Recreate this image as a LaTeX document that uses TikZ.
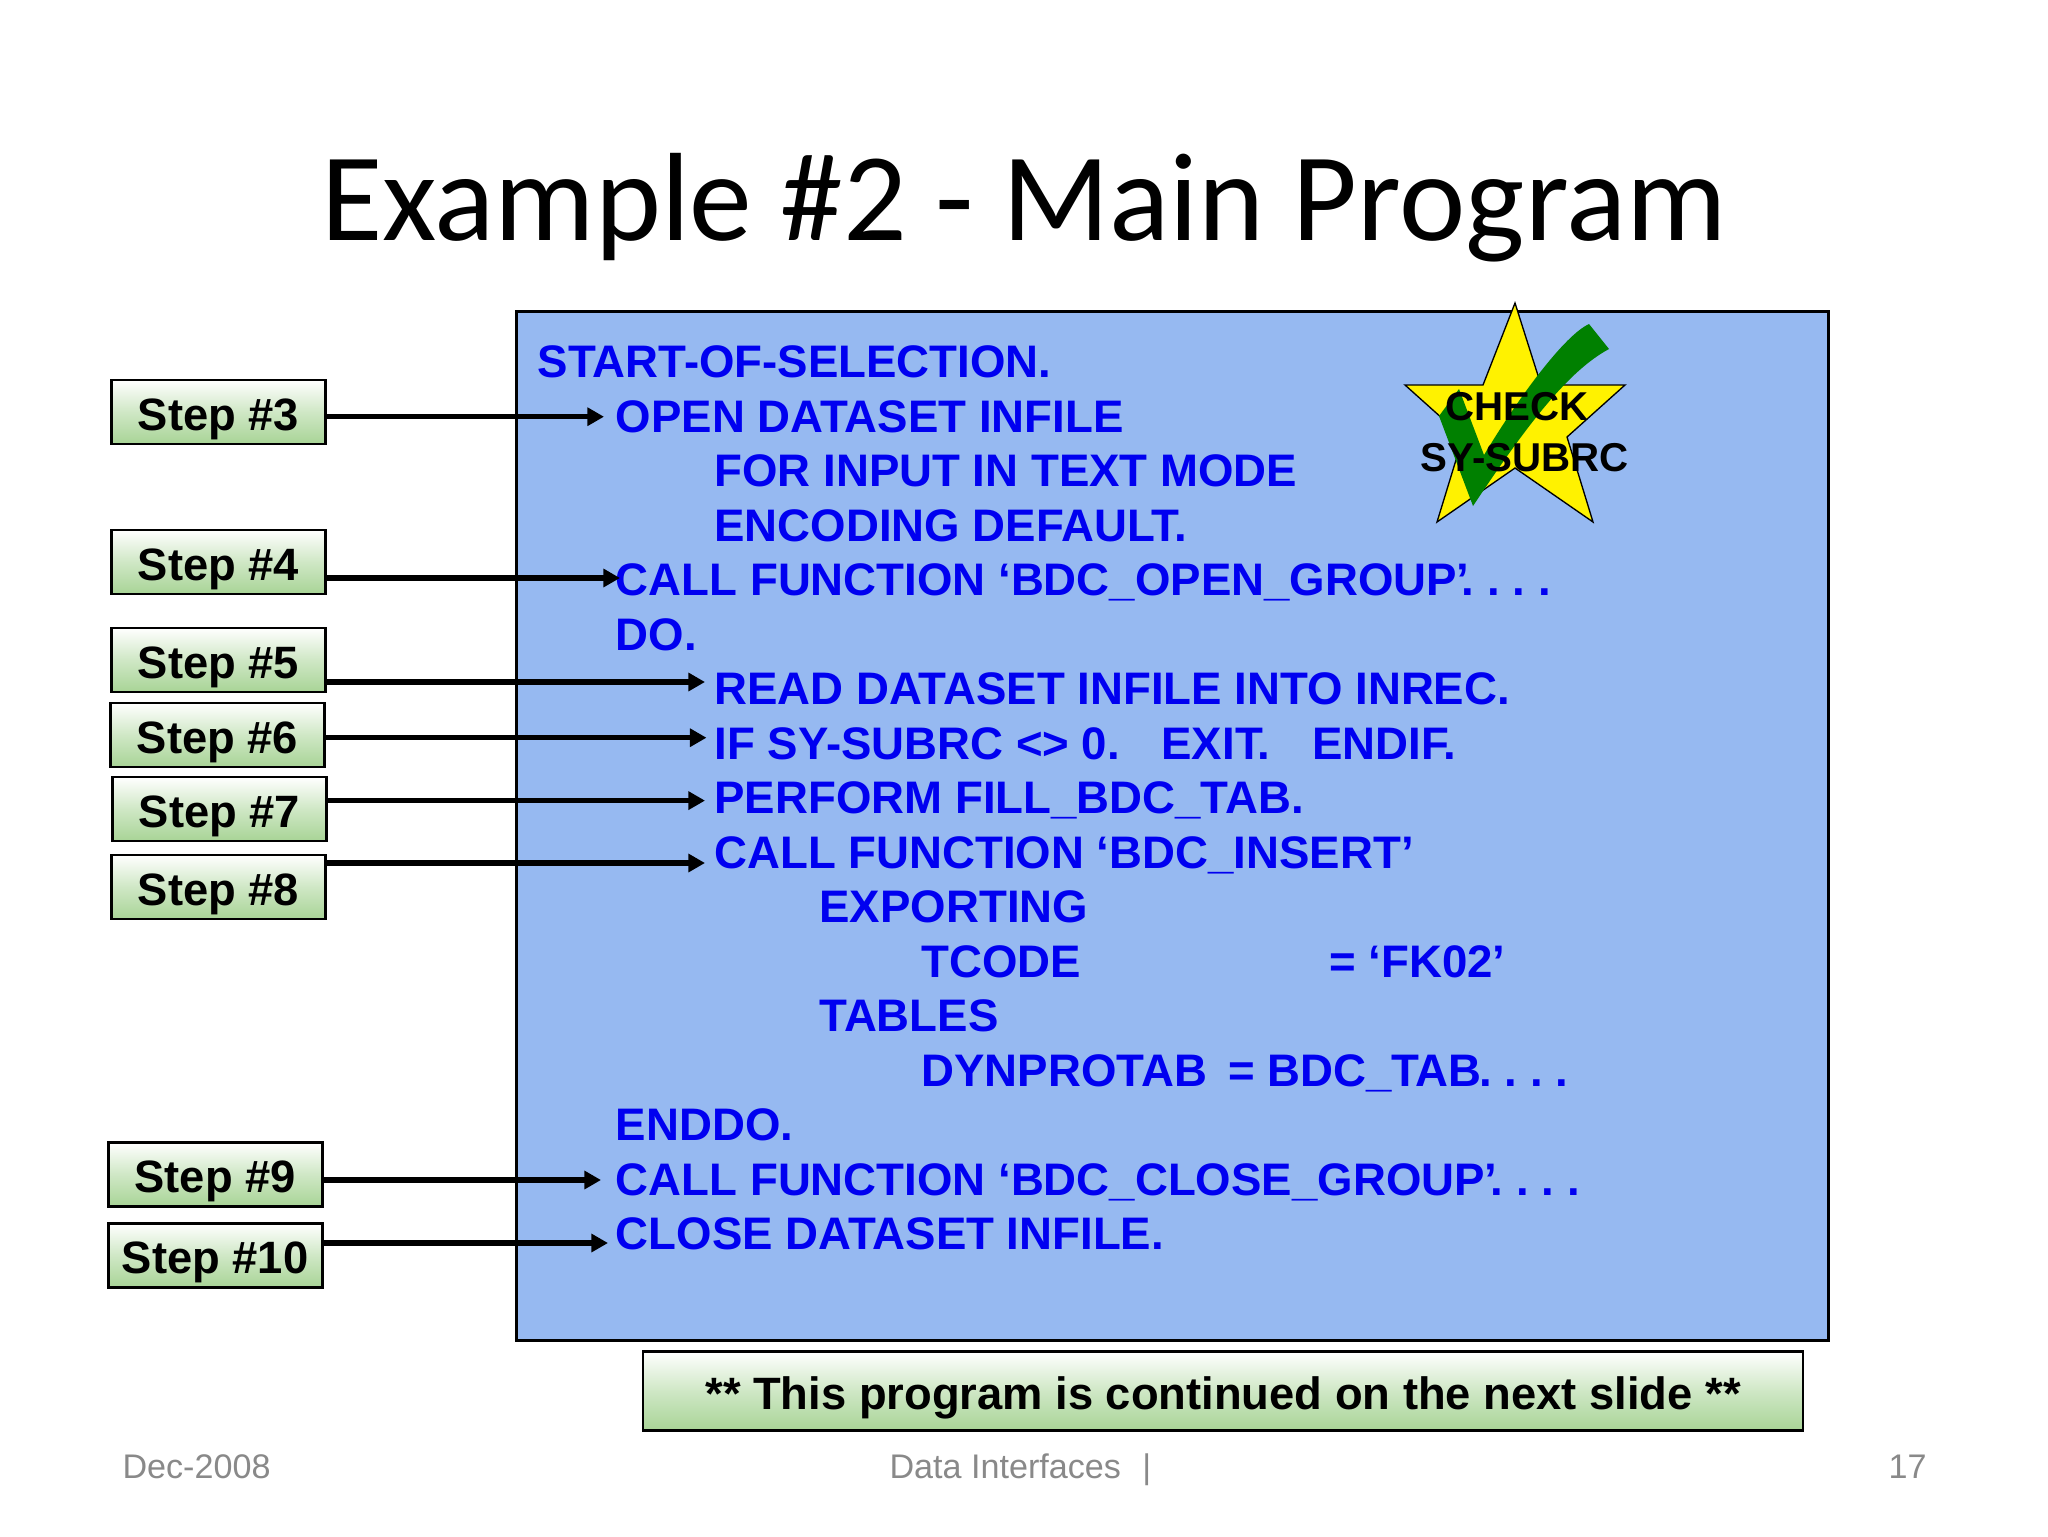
\documentclass[tikz,border=0pt]{standalone}
\usepackage{fontspec}
\setmainfont{Liberation Sans}
\newfontfamily\titlefont{Carlito}
\usetikzlibrary{arrows.meta}
\definecolor{panelblue}{RGB}{150,185,241}
\definecolor{codeblue}{RGB}{0,0,240}
\definecolor{stepgreen}{RGB}{168,212,150}
\definecolor{footgray}{RGB}{137,137,137}
\definecolor{checkgreen}{RGB}{0,128,0}
\newcommand{\dotsgap}{.\hspace{4.8pt}.\hspace{4.8pt}.\hspace{4.8pt}.}
\tikzset{
  stepbox/.style={draw=black,line width=1.1pt,top color=white,bottom color=stepgreen,middle color=white!45!stepgreen,
    minimum width=80.3pt,minimum height=24pt,inner sep=0pt,text height=13.5pt,text depth=0pt,font=\fontsize{17}{20}\selectfont\bfseries,text=black},
  code/.style={anchor=base west,inner sep=0pt,font=\fontsize{17.1}{20}\selectfont\bfseries,text=codeblue},
  foot/.style={anchor=base west,inner sep=0pt,font=\fontsize{12.8}{15}\selectfont,text=footgray},
  arrow/.style={line width=1.9pt,-{Triangle[length=6.2pt,width=6.6pt]}},
  starlabel/.style={inner sep=0pt,align=center,font=\fontsize{15.1}{18}\selectfont\bfseries,text=black}
}
\begin{document}
\begin{tikzpicture}[x=0.375pt,y=-0.375pt]
\useasboundingbox (0,0) rectangle (2048,1536);
\fill[white] (0,0) rectangle (2048,1536);
\node[anchor=base,inner sep=0pt,font=\titlefont\fontsize{47.1}{56}\selectfont] (title) at (1024,240) {Example \#2 - Main Program};
\node[draw=black,line width=0.9pt,fill=panelblue,minimum width=492pt,minimum height=385.8pt,inner sep=0pt] (panel) at (1172.5,826) {};
% code
\node[code] (l1) at (537.4,377.5) {START-OF-SELECTION.};
\node[code] (l2) at (615.4,432) {OPEN DATASET INFILE};
\node[code] (l3) at (714,486.5) {FOR INPUT IN TEXT MODE};
\node[code] (l4) at (714,541) {ENCODING DEFAULT.};
\node[code] (l5) at (615.4,595.5) {CALL FUNCTION ‘BDC\_OPEN\_GROUP’\hspace{-3pt}\dotsgap};
\node[code] (l6) at (615.4,650) {DO.};
\node[code] (l7) at (714,704.5) {READ DATASET INFILE INTO INREC.};
\node[code] (l8) at (714,759) {IF SY-SUBRC <> 0.\hspace{15.6pt}EXIT.\hspace{15.6pt}ENDIF.};
\node[code] (l9) at (714,813.5) {PERFORM FILL\_BDC\_TAB.};
\node[code] (l10) at (714,868) {CALL FUNCTION ‘BDC\_INSERT’};
\node[code] (l11) at (819,922.5) {EXPORTING};
\node[code] (l12) at (921,977) {TCODE};
\node[code] (l12b) at (1329,977) {= ‘FK02’};
\node[code] (l13) at (819,1031.5) {TABLES};
\node[code] (l14) at (921,1086) {DYNPROTAB};
\node[code] (l14b) at (1227.5,1086) {= BDC\_TAB\hspace{-1pt}\dotsgap};
\node[code] (l15) at (615.4,1140.5) {ENDDO.};
\node[code] (l16) at (615.4,1195) {CALL FUNCTION ‘BDC\_CLOSE\_GROUP’\hspace{-2.5pt}\dotsgap};
\node[code] (l17) at (615.4,1249.5) {CLOSE DATASET INFILE.};
% star and check
\draw[fill=yellow,draw=black,line width=0.5pt] (1515,303) -- (1541,385) -- (1625,385) -- (1567,437) -- (1593,522) -- (1515,468) -- (1437,522) -- (1463,437) -- (1405,385) -- (1483,385) -- cycle;
\fill[checkgreen] (1439,416) -- (1459,389) -- (1484,455)
  .. controls (1520,395) and (1565,335) .. (1589,324)
  -- (1609,349)
  .. controls (1570,370) and (1530,420) .. (1473,506) -- cycle;
\node[starlabel] (check) at (1517,407) {CHECK};
\node[starlabel] (subrc) at (1525,458) {SY-SUBRC};
% steps
\node[stepbox] (s3) at (218.6,412) {Step \#3};
\node[stepbox] (s4) at (218.6,562) {Step \#4};
\node[stepbox] (s5) at (218.6,660) {Step \#5};
\node[stepbox] (s6) at (217.5,735) {Step \#6};
\node[stepbox] (s7) at (219.5,809) {Step \#7};
\node[stepbox] (s8) at (218.6,887) {Step \#8};
\node[stepbox] (s9) at (215.2,1174.5) {Step \#9};
\node[stepbox] (s10) at (215.2,1255.5) {Step \#10};
\coordinate (a3) at (604,416.7);
\coordinate (a4) at (620,578);
\coordinate (a5) at (705,682);
\coordinate (a6) at (706.5,737.7);
\coordinate (a7) at (705,800.6);
\coordinate (a8) at (705,863);
\coordinate (a9) at (601,1180);
\coordinate (a10) at (608,1243);
\draw[arrow] (s3.east |- a3) -- (a3);
\draw[arrow] (s4.east |- a4) -- (a4);
\draw[arrow] (s5.east |- a5) -- (a5);
\draw[arrow] (s6.east |- a6) -- (a6);
\draw[arrow] (s7.east |- a7) -- (a7);
\draw[arrow] (s8.east |- a8) -- (a8);
\draw[arrow] (s9.east |- a9) -- (a9);
\draw[arrow] (s10.east |- a10) -- (a10);
% note
\node[stepbox,minimum width=435pt,minimum height=29.8pt] (note) at (1223,1391) {** This program is continued on the next slide **};
% footer
\node[foot] (date) at (122,1478) {Dec-2008};
\node[foot] (mid) at (889,1478) {Data Interfaces\hspace{8pt}|};
\node[foot] (page) at (1888,1478) {17};
\end{tikzpicture}
\end{document}
